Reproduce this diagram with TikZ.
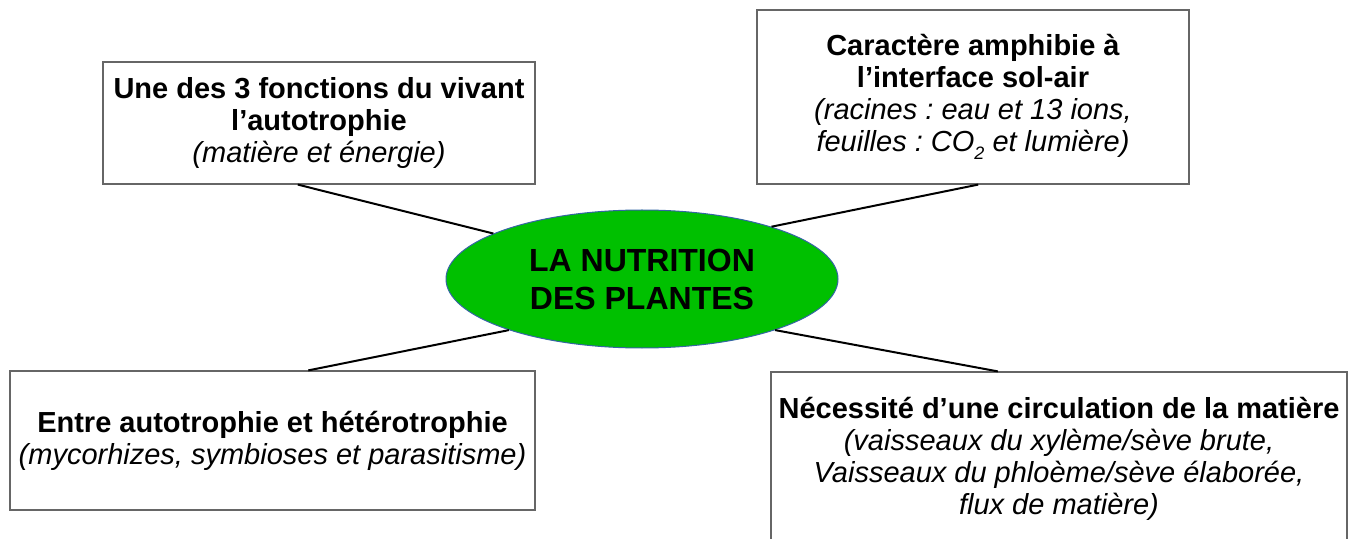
\documentclass[tikz,border=0pt]{standalone}
\usepackage{fontspec}
\setmainfont{Liberation Sans}
\usetikzlibrary{shapes.geometric,calc}
\frenchspacing
\definecolor{leafgreen}{HTML}{00C000}
\definecolor{ellborder}{HTML}{3465A4}
\newcommand{\lowsub}[1]{\raisebox{-0.55ex}{\fontsize{9}{9}\selectfont #1}}
\tikzset{
  infobox/.style={draw=black!60, line width=0.6pt, fill=white, inner sep=0pt, align=center,
    font=\fontsize{14.5}{16}\selectfont},
  hub/.style={ellipse, draw=ellborder, line width=0.5pt, fill=leafgreen, inner sep=0pt,
    minimum width=196pt, minimum height=69pt, align=center,
    font=\fontsize{16}{19}\selectfont\bfseries},
  link/.style={draw=black, line width=1pt}
}
\begin{document}
\begin{tikzpicture}[x=0.5pt,y=0.5pt]
\useasboundingbox (0,0) rectangle (1352,-539);
\node[hub] (c) at (642,-279) {LA NUTRITION\\DES PLANTES};
\node[infobox, minimum width=216pt, minimum height=61pt] (tl) at (319,-123)
  {\textbf{Une des 3 fonctions du vivant}\\\textbf{l’autotrophie}\\\textit{(matière et énergie)}};
\node[infobox, minimum width=216pt, minimum height=87pt] (tr) at (973,-97)
  {\textbf{Caractère amphibie à}\\\textbf{l’interface sol-air}\\\textit{(racines : eau et 13 ions,}\\\textit{feuilles : CO\lowsub{2} et lumière)}};
\node[infobox, minimum width=262.5pt, minimum height=69.5pt] (bl) at (272.5,-440.5)
  {\textbf{Entre autotrophie et hétérotrophie}\\\textit{(mycorhizes, symbioses et parasitisme)}};
\node[infobox, minimum width=288pt, minimum height=86.5pt] (br) at (1059,-458.5)
  {\textbf{Nécessité d’une circulation de la matière}\\\textit{(vaisseaux du xylème/sève brute,}\\\textit{Vaisseaux du phloème/sève élaborée,}\\\textit{flux de matière)}};
\coordinate (tlp) at ($(tl.south west)!0.451!(tl.south east)$);
\coordinate (trp) at ($(tr.south west)!0.512!(tr.south east)$);
\coordinate (blp) at ($(bl.north west)!0.568!(bl.north east)$);
\coordinate (brp) at ($(br.north west)!0.394!(br.north east)$);
\draw[link] (tlp) -- (c.163.2);
\draw[link] (trp) -- (c.22.4);
\draw[link] (blp) -- (c.201.2);
\draw[link] (brp) -- (c.339.4);
\end{tikzpicture}
\end{document}
